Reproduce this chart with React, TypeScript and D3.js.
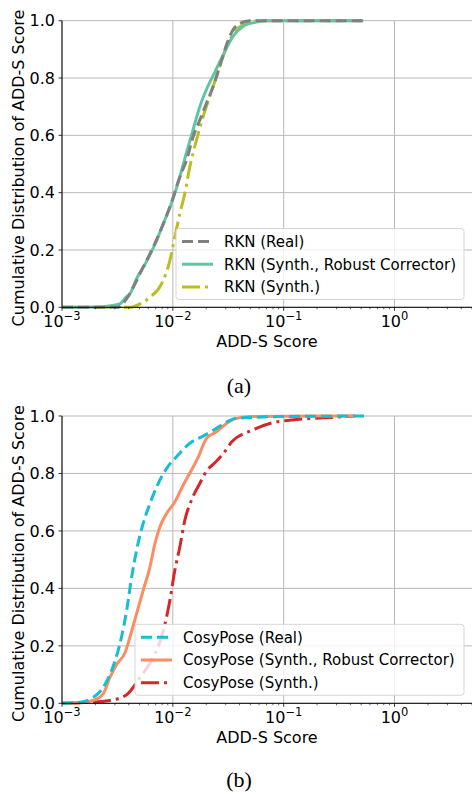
import * as d3 from "d3";
import { useEffect, useRef } from "react";

// ADD-S score (m) and cumulative fraction
const rknRealScore = [0.001, 0.00321, 0.00383, 0.00439, 0.0054, 0.00665, 0.00818, 0.00986, 0.01156, 0.01327, 0.01524, 0.0175, 0.02009, 0.02307, 0.02649, 0.03048, 0.03491, 0.04018, 0.04943, 0.515];
const rknRealCdf = [0, 0, 0.03, 0.07, 0.14, 0.21, 0.29, 0.373, 0.455, 0.513, 0.595, 0.653, 0.712, 0.77, 0.84, 0.916, 0.968, 0.99, 1, 1];

const rknRobustScore = [0.001, 0.0022, 0.0027, 0.00333, 0.00383, 0.0041, 0.00471, 0.00579, 0.00689, 0.00818, 0.00986, 0.01156, 0.01327, 0.01524, 0.0175, 0.02009, 0.02388, 0.02838, 0.03491, 0.04295, 0.05675, 0.06982, 0.5224];
const rknRobustCdf = [0, 0.001, 0.005, 0.012, 0.037, 0.047, 0.1, 0.16, 0.22, 0.29, 0.37, 0.455, 0.54, 0.62, 0.7, 0.76, 0.82, 0.88, 0.945, 0.98, 0.995, 1, 1];

const rknSynthScore = [0.001, 0.0041, 0.00505, 0.00621, 0.00791, 0.0094, 0.01042, 0.01156, 0.01282, 0.01422, 0.01633, 0.01875, 0.02153, 0.02477, 0.02838, 0.03266, 0.03882, 0.04613, 0.06081, 0.5];
const rknSynthCdf = [0, 0, 0.012, 0.035, 0.082, 0.163, 0.245, 0.327, 0.397, 0.49, 0.583, 0.665, 0.735, 0.805, 0.875, 0.934, 0.974, 0.99, 1, 1];

const cosyRealScore = [0.001, 0.00145, 0.00191, 0.00236, 0.0029, 0.00333, 0.00383, 0.00425, 0.00471, 0.0054, 0.00621, 0.00738, 0.00877, 0.01079, 0.01422, 0.01875, 0.02477, 0.03266, 0.0375, 0.05152, 0.09594, 0.5794];
const cosyRealCdf = [0, 0.004, 0.02, 0.056, 0.13, 0.207, 0.323, 0.44, 0.533, 0.626, 0.695, 0.765, 0.817, 0.858, 0.905, 0.93, 0.957, 0.985, 0.992, 0.995, 0.998, 1];

const cosyRobustScore = [0.001, 0.00136, 0.00191, 0.00236, 0.0027, 0.00311, 0.0037, 0.0041, 0.00471, 0.0054, 0.00621, 0.00689, 0.00764, 0.00877, 0.01042, 0.01239, 0.01473, 0.0169, 0.02012, 0.02477, 0.03048, 0.03622, 0.04943, 0.4365];
const cosyRobustCdf = [0, 0, 0.01, 0.034, 0.089, 0.135, 0.176, 0.23, 0.312, 0.393, 0.474, 0.556, 0.614, 0.66, 0.701, 0.759, 0.812, 0.856, 0.922, 0.945, 0.974, 0.99, 0.998, 1];

const cosySynthScore = [0.001, 0.00145, 0.0027, 0.00383, 0.00505, 0.00665, 0.00818, 0.0094, 0.01042, 0.01156, 0.01282, 0.01473, 0.0175, 0.02012, 0.02388, 0.02838, 0.03404, 0.05152, 0.07798, 0.118, 0.1914, 0.2704, 0.4365];
const cosySynthCdf = [0, 0.002, 0.01, 0.03, 0.09, 0.16, 0.25, 0.358, 0.463, 0.544, 0.637, 0.707, 0.765, 0.808, 0.837, 0.868, 0.91, 0.95, 0.976, 0.986, 0.992, 0.995, 1];

const rknLabels = ["RKN (Real)", "RKN (Synth., Robust Corrector)", "RKN (Synth.)"];
const cosyLabels = ["CosyPose (Real)", "CosyPose (Synth., Robust Corrector)", "CosyPose (Synth.)"];

const xMajorTicks = [1e-3, 1e-2, 1e-1, 1e0];
const xTickExponents = ["\u22123", "\u22122", "\u22121", "0"];
const yTicks = [0, 0.2, 0.4, 0.6, 0.8, 1.0];

const W = 472;
const H = 795;
const left = 62;
const right = 472;

function drawPanel(g, cfg) {
  const x = d3.scaleLog().domain([1e-3, 5]).range([left, right]);
  const y = d3.scaleLinear().domain([0, 1]).range([cfg.bottom, cfg.top]);

  // grid
  g.selectAll(".gx")
    .data(xMajorTicks)
    .enter()
    .append("line")
    .attr("x1", (d) => x(d))
    .attr("x2", (d) => x(d))
    .attr("y1", cfg.bottom)
    .attr("y2", cfg.top)
    .attr("stroke", "#b0b0b0")
    .attr("stroke-width", 0.9);
  g.selectAll(".gy")
    .data(yTicks)
    .enter()
    .append("line")
    .attr("x1", left)
    .attr("x2", right)
    .attr("y1", (d) => y(d))
    .attr("y2", (d) => y(d))
    .attr("stroke", "#b0b0b0")
    .attr("stroke-width", 0.9);

  // curves, last series under the others
  const line = d3
    .line()
    .x((d) => x(d[0]))
    .y((d) => y(d[1]))
    .curve(d3.curveMonotoneX);

  const order = [2, 1, 0];
  order.forEach((i) => {
    const s = cfg.series[i];
    g.append("path")
      .datum(d3.zip(s.score, s.cdf))
      .attr("d", line)
      .attr("fill", "none")
      .attr("stroke", s.color)
      .attr("stroke-width", 3)
      .attr("stroke-dasharray", s.dash);
  });

  // spines
  g.append("line")
    .attr("x1", left).attr("x2", left)
    .attr("y1", cfg.top).attr("y2", cfg.bottom)
    .attr("stroke", "#000").attr("stroke-width", 1);
  g.append("line")
    .attr("x1", left).attr("x2", right)
    .attr("y1", cfg.bottom).attr("y2", cfg.bottom)
    .attr("stroke", "#000").attr("stroke-width", 1);

  // y ticks
  yTicks.forEach((t) => {
    g.append("line")
      .attr("x1", left - 3.5).attr("x2", left)
      .attr("y1", y(t)).attr("y2", y(t))
      .attr("stroke", "#000").attr("stroke-width", 0.8);
    g.append("text")
      .attr("x", left - 7)
      .attr("y", y(t))
      .attr("dy", "0.36em")
      .attr("text-anchor", "end")
      .attr("font-size", 16)
      .text(t.toFixed(1));
  });

  // x ticks: major + minor
  const minor = [];
  for (let e = -3; e <= 0; e++) {
    for (let m = 2; m <= 9; m++) {
      const v = m * Math.pow(10, e);
      if (v <= 5) minor.push(v);
    }
  }
  minor.forEach((v) => {
    g.append("line")
      .attr("x1", x(v)).attr("x2", x(v))
      .attr("y1", cfg.bottom).attr("y2", cfg.bottom + 2)
      .attr("stroke", "#000").attr("stroke-width", 0.6);
  });
  xMajorTicks.forEach((t, i) => {
    g.append("line")
      .attr("x1", x(t)).attr("x2", x(t))
      .attr("y1", cfg.bottom).attr("y2", cfg.bottom + 3.5)
      .attr("stroke", "#000").attr("stroke-width", 0.8);
    const txt = g.append("text")
      .attr("x", x(t))
      .attr("y", cfg.bottom + 20)
      .attr("text-anchor", "middle")
      .attr("font-size", 16);
    txt.append("tspan").text("10");
    txt.append("tspan")
      .attr("font-size", 11.5)
      .attr("dy", -7)
      .text(xTickExponents[i]);
  });

  // axis labels
  g.append("text")
    .attr("x", (left + right) / 2)
    .attr("y", cfg.bottom + 40)
    .attr("text-anchor", "middle")
    .attr("font-size", 16)
    .text("ADD-S Score");
  g.append("text")
    .attr("transform", `translate(24,${(cfg.top + cfg.bottom) / 2 + 4}) rotate(-90)`)
    .attr("text-anchor", "middle")
    .attr("font-size", 16)
    .text("Cumulative Distribution of ADD-S Score");

  // legend
  const lg = g.append("g");
  lg.append("rect")
    .attr("x", cfg.legendX)
    .attr("y", cfg.legendY)
    .attr("width", 464 - cfg.legendX)
    .attr("height", 71)
    .attr("rx", 3)
    .attr("fill", "#fff")
    .attr("fill-opacity", 0.8)
    .attr("stroke", "#d6d6d6")
    .attr("stroke-width", 1);
  cfg.series.forEach((s, i) => {
    const ry = cfg.legendY + 13 + i * 22.7;
    lg.append("line")
      .attr("x1", cfg.legendX + 6)
      .attr("x2", cfg.legendX + 37)
      .attr("y1", ry)
      .attr("y2", ry)
      .attr("stroke", s.color)
      .attr("stroke-width", 3)
      .attr("stroke-dasharray", s.dash);
    lg.append("text")
      .attr("x", cfg.legendX + 48)
      .attr("y", ry)
      .attr("dy", "0.36em")
      .attr("font-size", 15)
      .text(cfg.labels[i]);
  });

  // caption
  g.append("text")
    .attr("x", 239)
    .attr("y", cfg.captionY)
    .attr("text-anchor", "middle")
    .attr("font-family", "'Liberation Serif', serif")
    .attr("font-size", 22)
    .text(cfg.caption);
}

export default function App() {
  const svgRef = useRef(null);

  useEffect(() => {
    const svg = d3.select(svgRef.current);
    svg.selectAll("*").remove();

    const dashed = "11 5";
    const dashDot = "18 5 3 5";

    drawPanel(svg.append("g"), {
      top: 20.7,
      bottom: 307.3,
      legendX: 176,
      legendY: 228.5,
      captionY: 393,
      caption: "(a)",
      labels: rknLabels,
      series: [
        { score: rknRealScore, cdf: rknRealCdf, color: "#808080", dash: dashed },
        { score: rknRobustScore, cdf: rknRobustCdf, color: "#5fc6a4", dash: null },
        { score: rknSynthScore, cdf: rknSynthCdf, color: "#bcbd22", dash: dashDot },
      ],
    });

    drawPanel(svg.append("g"), {
      top: 416,
      bottom: 703.3,
      legendX: 135,
      legendY: 624.3,
      captionY: 787,
      caption: "(b)",
      labels: cosyLabels,
      series: [
        { score: cosyRealScore, cdf: cosyRealCdf, color: "#17becf", dash: dashed },
        { score: cosyRobustScore, cdf: cosyRobustCdf, color: "#fc8d62", dash: null },
        { score: cosySynthScore, cdf: cosySynthCdf, color: "#d62728", dash: dashDot },
      ],
    });
  }, []);

  return (
    <svg
      ref={svgRef}
      width={W}
      height={H}
      style={{ position: "absolute", left: 0, top: 0, background: "#fff" }}
      fontFamily="'DejaVu Sans', sans-serif"
    />
  );
}
